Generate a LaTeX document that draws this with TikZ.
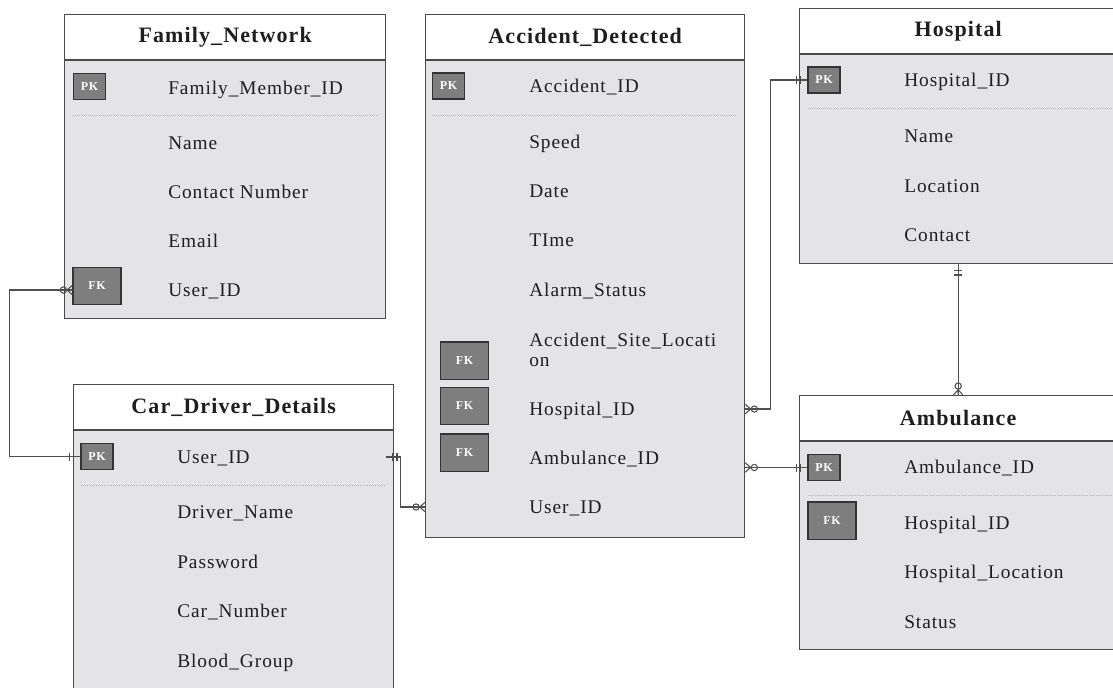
\documentclass[tikz,border=0pt]{standalone}
\usepackage{fontspec}
\setmainfont{Liberation Serif}[LetterSpace=5]
\usetikzlibrary{arrows.meta}

\definecolor{bodygray}{HTML}{E4E4E6}
\definecolor{edgegray}{HTML}{4A4A4A}
\definecolor{keygray}{HTML}{7E7E7E}
\definecolor{keyedge}{HTML}{333333}
\definecolor{linegray}{HTML}{4F4F4F}
\definecolor{ink}{HTML}{1E1E1E}

% crow's foot with its middle prong
\pgfdeclarearrow{
  name = Crow,
  parameters = {\the\pgfarrowlength,\the\pgfarrowwidth},
  setup code = {
    \pgfarrowssettipend{0pt}
    \pgfarrowssetlineend{0pt}
    \pgfarrowssetbackend{-\pgfarrowlength}
    \pgfarrowssavethe\pgfarrowlength
    \pgfarrowssavethe\pgfarrowwidth
  },
  drawing code = {
    \pgfpathmoveto{\pgfqpoint{0pt}{.5\pgfarrowwidth}}
    \pgfpathlineto{\pgfqpoint{-\pgfarrowlength}{0pt}}
    \pgfpathlineto{\pgfqpoint{0pt}{-.5\pgfarrowwidth}}
    \pgfpathmoveto{\pgfqpoint{-\pgfarrowlength}{0pt}}
    \pgfpathlineto{\pgfqpoint{0pt}{0pt}}
    \pgfusepathqstroke
  },
  defaults = {length=4pt, width=7pt}
}

% two bars set back from the end, line runs on to the box
\pgfdeclarearrow{
  name = Pipes,
  parameters = {\the\pgfarrowlength,\the\pgfarrowwidth},
  setup code = {
    \pgfarrowssettipend{0pt}
    \pgfarrowssetlineend{0pt}
    \pgfarrowssetbackend{-\pgfarrowlength}
    \pgfarrowssavethe\pgfarrowlength
    \pgfarrowssavethe\pgfarrowwidth
  },
  drawing code = {
    \pgfpathmoveto{\pgfqpoint{-\pgfarrowlength}{.5\pgfarrowwidth}}
    \pgfpathlineto{\pgfqpoint{-\pgfarrowlength}{-.5\pgfarrowwidth}}
    \pgfpathmoveto{\pgfqpoint{-.62\pgfarrowlength}{.5\pgfarrowwidth}}
    \pgfpathlineto{\pgfqpoint{-.62\pgfarrowlength}{-.5\pgfarrowwidth}}
    \pgfusepathqstroke
  },
  defaults = {length=8pt, width=6pt}
}

\begin{document}
\begin{tikzpicture}[x=0.75pt, y=-0.75pt,
    entity/.style={draw=edgegray, fill=bodygray, line width=1pt, anchor=north west, inner sep=0pt},
    head/.style={draw=edgegray, fill=white, line width=1pt, anchor=north west, inner sep=0pt, minimum height=34pt, text=ink, font=\fontsize{16.5}{18}\selectfont\bfseries},
    attr/.style={anchor=west, inner sep=0pt, text height=10pt, text depth=0pt, align=left, text=ink, font=\fontsize{14.5}{15}\selectfont},
    key/.style={draw=keyedge, fill=keygray, line width=1pt, text=white, inner sep=0pt, font=\fontsize{9}{10}\selectfont\bfseries},
    pk/.style={key, minimum width=24pt, minimum height=19.5pt},
    fk/.style={key, minimum width=36pt, minimum height=28pt},
    sepline/.style={draw=gray!60, line width=0.6pt, densely dotted},
    link/.style={draw=linegray, line width=0.8pt},
    manytoone/.style={link, {Crow[length=4pt,width=7pt]Circle[open,length=5.5pt]}-{Pipes[length=8pt,width=6pt]}},
    onetomany/.style={link, {Pipes[length=8pt,width=6pt]}-{Circle[open,length=5.5pt]Crow[length=4pt,width=7pt]}}]

    \useasboundingbox (0,0) rectangle (1113,687);
    \clip (0,0) rectangle (1113,687);

    % Family_Network
    \node[entity, minimum width=240.75pt, minimum height=228pt] (fam) at (64,14) {};
    \node[head, minimum width=240.75pt] (famhead) at (64,14) {Family\_Network};
    \node[pk] (fampk) at (89.5,86.5) {PK};
    \draw[sepline] (73,115) -- (377,115);
    \node[attr] (fammember) at (168,88) {Family\_Member\_ID};
    \node[attr] (famname) at (168,143) {Name};
    \node[attr] (famcontact) at (168,192) {Contact Number};
    \node[attr] (famemail) at (168,241) {Email};
    \node[attr] (famuser) at (168,290) {User\_ID};
    \node[fk] (famfk) at (97,286) {FK};

    % Accident_Detected
    \node[entity, minimum width=239.25pt, minimum height=392.25pt] (ad) at (425,14) {};
    \node[head, minimum width=239.25pt] (adhead) at (425,14) {Accident\_Detected};
    \node[pk] (adpk) at (448.5,86) {PK};
    \draw[sepline] (432,115) -- (736,115);
    \node[attr] (adid) at (529,86) {Accident\_ID};
    \node[attr] (adspeed) at (529,142) {Speed};
    \node[attr] (addate) at (529,191) {Date};
    \node[attr] (adtime) at (529,240) {TIme};
    \node[attr] (adalarm) at (529,290) {Alarm\_Status};
    \node[attr] (adsite) at (529,360) {Accident\_Site\_Locati\\on};
    \node[attr] (adhosp) at (529,409) {Hospital\_ID};
    \node[attr] (adamb) at (529,458) {Ambulance\_ID};
    \node[attr] (aduser) at (529,507) {User\_ID};
    \node[fk] (adfksite) at (464.5,360.5) {FK};
    \node[fk] (adfkhosp) at (464.5,406) {FK};
    \node[fk] (adfkamb) at (464.5,452.5) {FK};

    % Hospital
    \node[entity, minimum width=237.75pt, minimum height=191.25pt] (hosp) at (799,8) {};
    \node[head, minimum width=237.75pt] (hosphead) at (799,8) {Hospital};
    \node[pk] (hosppk) at (824,80) {PK};
    \draw[sepline] (808,108) -- (1113,108);
    \node[attr] (hospid) at (904,80) {Hospital\_ID};
    \node[attr] (hospname) at (904,136) {Name};
    \node[attr] (hosploc) at (904,186) {Location};
    \node[attr] (hospcontact) at (904,235) {Contact};

    % Ambulance
    \node[entity, minimum width=237.75pt, minimum height=190.5pt] (amb) at (799,395) {};
    \node[head, minimum width=237.75pt] (ambhead) at (799,395) {Ambulance};
    \node[pk] (ambpk) at (824,467.5) {PK};
    \draw[sepline] (808,495) -- (1113,495);
    \node[attr] (ambid) at (904,467) {Ambulance\_ID};
    \node[attr] (ambhosp) at (904,523) {Hospital\_ID};
    \node[attr] (ambloc) at (904,572) {Hospital\_Location};
    \node[attr] (ambstatus) at (904,622) {Status};
    \node[fk] (ambfk) at (832,520.5) {FK};

    % Car_Driver_Details
    \node[entity, minimum width=240pt, minimum height=240pt] (cdd) at (73,384) {};
    \node[head, minimum width=240pt] (cddhead) at (73,384) {Car\_Driver\_Details};
    \node[pk] (cddpk) at (97,456.5) {PK};
    \draw[sepline] (81,485) -- (385,485);
    \node[attr] (cdduser) at (177,457) {User\_ID};
    \node[attr] (cddname) at (177,512) {Driver\_Name};
    \node[attr] (cddpass) at (177,562) {Password};
    \node[attr] (cddcar) at (177,611) {Car\_Number};
    \node[attr] (cddblood) at (177,661) {Blood\_Group};

    % Relationships
    \draw[manytoone] ([yshift=-3pt]famfk.west) -- ++(-63,0) |- (cddpk.west);
    \draw[onetomany] ([xshift=-6pt]cdd.east |- cdduser.west) -- ++(14,0) |- (aduser.west -| ad.west);
    \draw[manytoone] (adhosp.west -| ad.east) -- ++(25,0) |- (hosppk.west);
    \draw[manytoone] (ambpk.west -| ad.east) -- (ambpk.west);
    \draw[onetomany] (hosp.south) -- (ambhead.north);

\end{tikzpicture}
\end{document}
